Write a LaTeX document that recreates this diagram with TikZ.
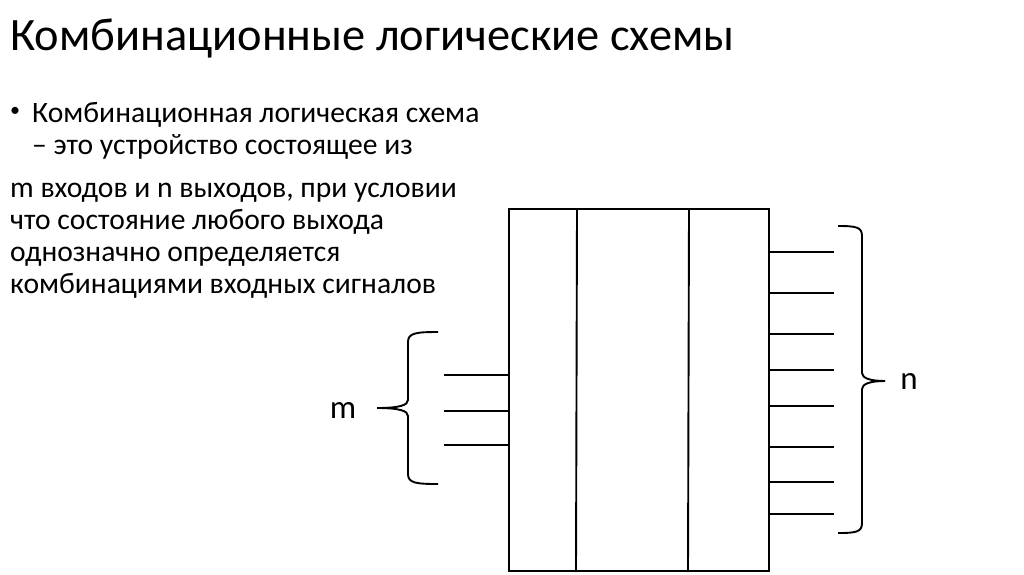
\documentclass[tikz,border=0pt]{standalone}
\usepackage{fontspec}
\setmainfont{Carlito}
\begin{document}
\begin{tikzpicture}[x=1pt,y=-1pt,
  wire/.style={line width=1.9pt,black},
  brace/.style={line width=1.9pt,black,line join=round},
  titletext/.style={anchor=base west,inner sep=0pt,font=\fontsize{46.4}{52}\selectfont},
  bodytext/.style={anchor=base west,inner sep=0pt,font=\fontsize{29.6}{34}\selectfont},
  bullettext/.style={anchor=center,inner sep=0pt,font=\fontsize{20}{24}\selectfont},
  lbl/.style={inner sep=0pt,font=\fontsize{33}{38}\selectfont}]
\useasboundingbox (0,0) rectangle (1024,574);
% title and text
\node[titletext] (title) at (10,50) {Комбинационные логические схемы};
\node[bullettext] (bul) at (15,112) {•};
\node[bodytext] (l1) at (32,122) {Комбинационная логическая схема};
\node[bodytext] (l2) at (32,154) {– это устройство состоящее из};
\node[bodytext] (l3) at (10,197) {m входов и n выходов, при условии};
\node[bodytext] (l4) at (10,229) {что состояние любого выхода};
\node[bodytext] (l5) at (10,261) {однозначно определяется};
\node[bodytext] (l6) at (10,293) {комбинациями входных сигналов};
% block
\draw[wire] (509,209) rectangle (769,571);
\draw[wire] (577,209) -- (576,571);
\draw[wire] (689,209) -- (688,571);
% inputs
\foreach \y [count=\i] in {375,411,445}{
  \coordinate (in\i) at (444,\y);
  \coordinate (inb\i) at (509,\y);
  \draw[wire] (in\i) -- (inb\i);
}
% outputs
\foreach \y [count=\i] in {252,293,334,370,406,447,482,514}{
  \coordinate (out\i) at (769,\y);
  \coordinate (oute\i) at (834,\y);
  \draw[wire] (out\i) -- (oute\i);
}
% left brace
\coordinate (lbt) at (438,332);
\coordinate (lbb) at (438,484);
\coordinate (lbtip) at (377,408);
\draw[brace] (lbt) .. controls (416,332) and (408,333) .. (408,342)
  -- (408,400) .. controls (408,405) and (400,408) .. (lbtip);
\draw[brace] (lbtip) .. controls (400,408) and (408,411) .. (408,416)
  -- (408,474) .. controls (408,483) and (416,484) .. (lbb);
\node[lbl] (m) at (343,410) {m};
% right brace
\coordinate (rbt) at (838,226);
\coordinate (rbb) at (838,533);
\coordinate (rbtip) at (885,381);
\draw[brace] (rbt) .. controls (856,226) and (862,227) .. (862,236)
  -- (862,373) .. controls (862,378) and (870,381) .. (rbtip);
\draw[brace] (rbtip) .. controls (870,381) and (862,384) .. (862,389)
  -- (862,523) .. controls (862,532) and (856,533) .. (rbb);
\node[lbl] (n) at (909,381) {n};
\end{tikzpicture}
\end{document}
